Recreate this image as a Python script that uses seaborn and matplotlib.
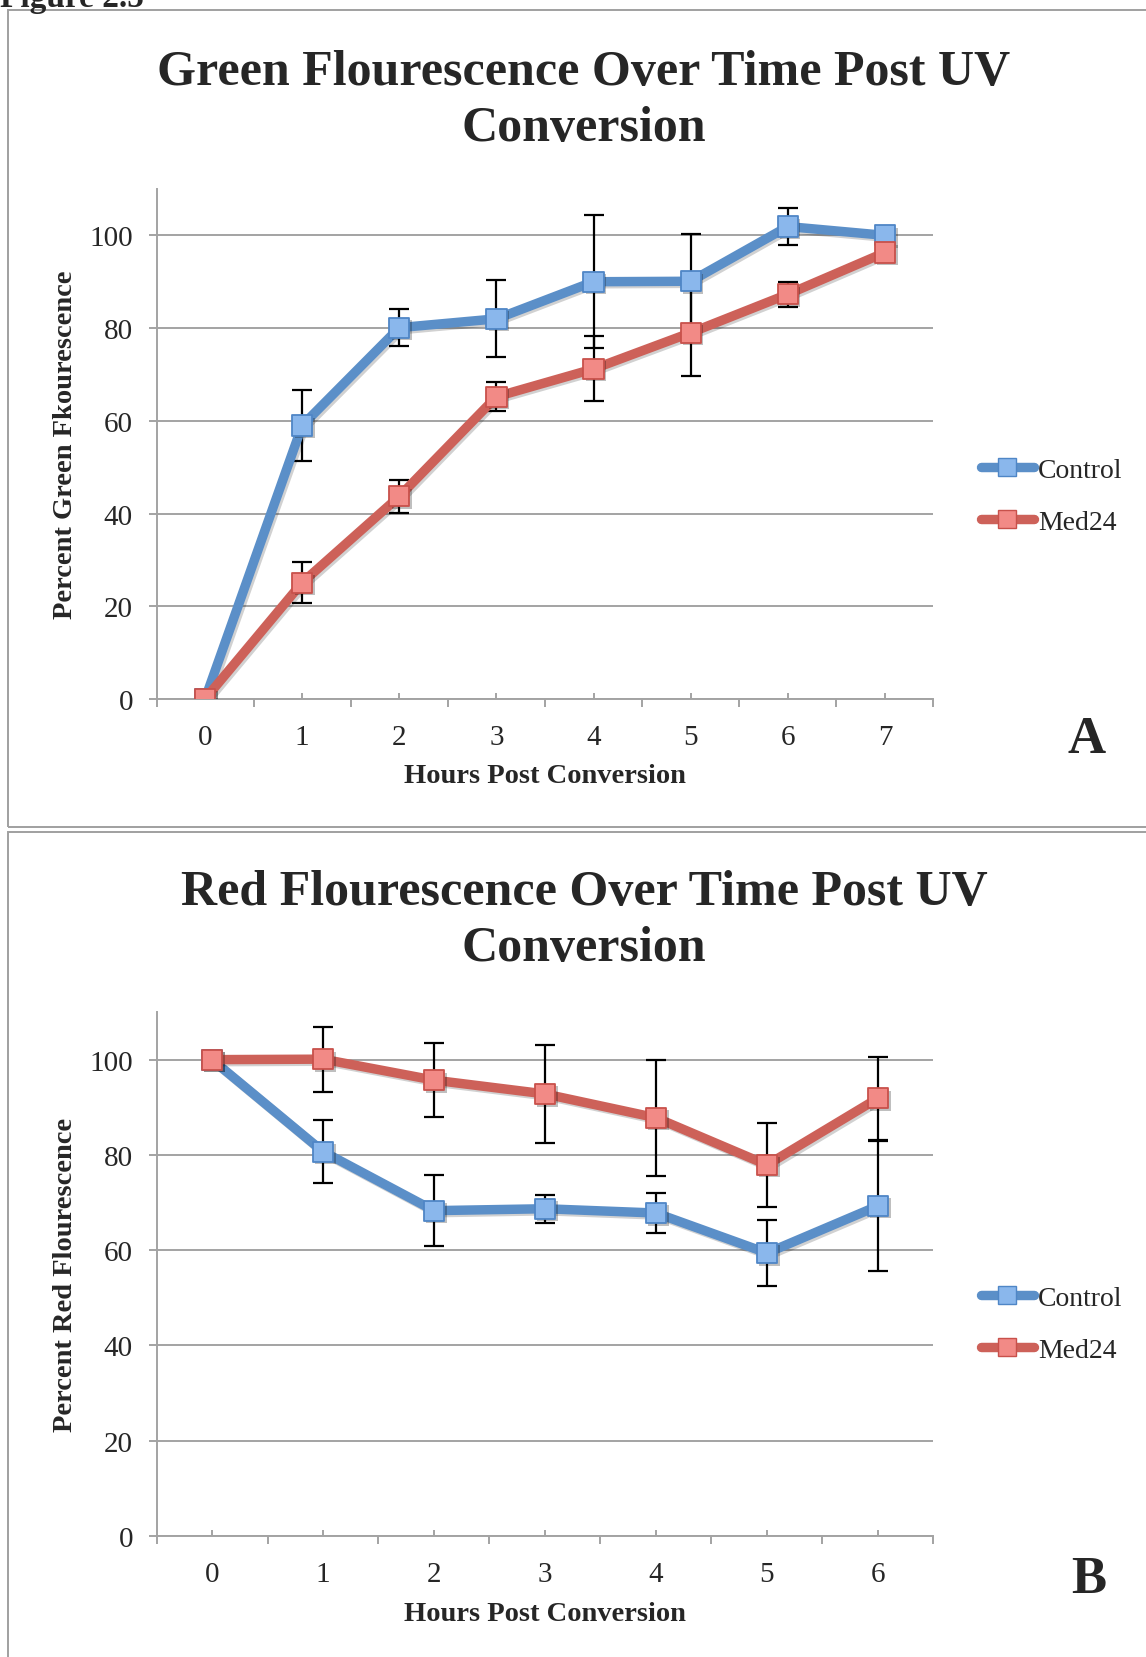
import numpy as np
import pandas as pd
import matplotlib
matplotlib.use("Agg")
import matplotlib.pyplot as plt
import seaborn as sns
from matplotlib.lines import Line2D
from matplotlib.patches import Rectangle
from matplotlib.ticker import FixedLocator
import matplotlib.patheffects as pe

# ---------------- data ----------------
hours_a = [0, 1, 2, 3, 4, 5, 6, 7]
green_control = [0, 59.0, 80.1, 82.0, 90.0, 90.1, 101.9, 100.0]
green_control_err = [0, 7.6, 4.0, 8.3, 14.3, 10.3, 4.0, 0]
green_med24 = [0, 25.1, 43.7, 65.2, 71.2, 79.0, 87.3, 96.3]
green_med24_err = [0, 4.4, 3.6, 3.1, 7.0, 9.4, 2.7, 0]

hours_b = [0, 1, 2, 3, 4, 5, 6]
red_control = [100, 80.7, 68.3, 68.7, 67.8, 59.4, 69.3]
red_control_err = [0, 6.6, 7.5, 2.9, 4.2, 6.9, 13.7]
red_med24 = [100, 100.1, 95.7, 92.8, 87.8, 77.9, 91.9]
red_med24_err = [0, 6.8, 7.7, 10.2, 12.2, 8.8, 8.7]

series_names = ["Control", "Med24"]
y_ticks = [0, 20, 40, 60, 80, 100]

title_a = "Green Flourescence Over Time Post UV\nConversion"
title_b = "Red Flourescence Over Time Post UV\nConversion"
ylabel_a = "Percent Green Fkourescence"
ylabel_b = "Percent Red Flourescence"
xlabel = "Hours Post Conversion"
figure_label = "Figure 2.5"

# ---------------- style ----------------
sns.set_style("white")
plt.rcParams["font.family"] = ["Liberation Serif", "DejaVu Serif"]

W, H = 1146, 1658
fig = plt.figure(figsize=(W / 100, H / 100), dpi=100)

LINE_C = {"Control": "#5B8FC8", "Med24": "#CD6159"}
FACE_C = {"Control": "#8AB7EC", "Med24": "#F28A86"}
EDGE_C = {"Control": "#4F86C6", "Med24": "#C8514B"}
GRID_C = "#A3A3A3"
LW = 6.8
MS = 14.5
TICK_FS = 21
LABEL_FS = 20.5


def px_axes(left, top, right, bottom):
    return fig.add_axes([left / W, 1 - bottom / H, (right - left) / W, (bottom - top) / H])


def draw_panel(ax, hours, ctrl, ctrl_err, med, med_err, ylabel):
    df = pd.DataFrame({
        "hour": hours * 2,
        "value": ctrl + med,
        "err": ctrl_err + med_err,
        "group": ["Control"] * len(hours) + ["Med24"] * len(hours),
    })
    # error bars (beneath markers)
    for g in series_names:
        d = df[(df.group == g) & (df.err > 0)]
        ax.errorbar(d.hour, d.value, yerr=d.err, fmt="none", ecolor="black",
                    elinewidth=1.6, capsize=7.5, capthick=1.6, zorder=2)
    z = 3
    for g in series_names:
        d = df[df.group == g]
        sns.lineplot(data=d, x="hour", y="value", color=LINE_C[g], linewidth=LW,
                     errorbar=None, ax=ax, zorder=z, legend=False,
                     path_effects=[pe.SimpleLineShadow(offset=(1.5, -1.5), alpha=0.18), pe.Normal()])
        sc = sns.scatterplot(data=d, x="hour", y="value", marker="s", s=MS ** 2,
                             color=FACE_C[g], edgecolor=EDGE_C[g], linewidth=1.3,
                             ax=ax, zorder=z + 1, legend=False)
        sc.collections[-1].set_path_effects(
            [pe.SimplePatchShadow(offset=(1.8, -1.8), shadow_rgbFace="black", alpha=0.25), pe.Normal()])
        z += 2

    n = len(hours)
    ax.set_xlim(-0.5, n - 0.5)
    ax.set_ylim(0, 110)
    ax.yaxis.set_major_locator(FixedLocator(y_ticks))
    ax.xaxis.set_major_locator(FixedLocator(hours))
    ax.xaxis.set_minor_locator(FixedLocator(np.arange(n + 1) - 0.5))
    ax.yaxis.grid(True, color=GRID_C, linewidth=1.4)
    ax.xaxis.grid(False)
    ax.set_axisbelow(True)
    for s in ["top", "right"]:
        ax.spines[s].set_visible(False)
    for s in ["left", "bottom"]:
        ax.spines[s].set_color(GRID_C)
        ax.spines[s].set_linewidth(1.4)
    ax.tick_params(axis="y", which="major", direction="out", length=6, width=1.4,
                   color=GRID_C, labelsize=TICK_FS, pad=11, left=True)
    ax.tick_params(axis="x", which="major", direction="in", length=4, width=1.4,
                   color=GRID_C, labelsize=TICK_FS, pad=18, bottom=True)
    ax.tick_params(axis="x", which="minor", direction="out", length=6, width=1.4,
                   color=GRID_C, bottom=True)
    ax.set_xlabel(xlabel, fontsize=LABEL_FS, fontweight="bold")
    ax.set_ylabel(ylabel, fontsize=LABEL_FS, fontweight="bold")
    return ax


# ---------------- panel frames ----------------
fig.patches.append(Rectangle((8 / W, 1 - 828 / H), 1.2, (828 - 11) / H, transform=fig.transFigure,
                             fill=False, edgecolor="#A0A0A0", linewidth=1.4))
fig.patches.append(Rectangle((8 / W, 1 - 1680 / H), 1.2, (1680 - 833) / H, transform=fig.transFigure,
                             fill=False, edgecolor="#A0A0A0", linewidth=1.4))

fig.text(0 / W, 1 - 7 / H, figure_label, fontsize=24, fontweight="bold", ha="left", va="baseline")

# ---------------- panel A ----------------
axA = px_axes(156.5, 190, 933.5, 700)
draw_panel(axA, hours_a, green_control, green_control_err, green_med24, green_med24_err, ylabel_a)
axA.xaxis.set_label_coords(0.5, -(777 - 700) / 510)
axA.xaxis.label.set_va("center")
axA.yaxis.set_label_coords((66 - 156.5) / 777, 0.5)
axA.yaxis.label.set_va("center")
fig.text(584 / W, 1 - 101 / H, title_a, fontsize=36, fontweight="bold", ha="center", va="center",
         linespacing=1.27)
fig.text(1087 / W, 1 - 740 / H, "A", fontsize=38, fontweight="bold", ha="center", va="center")

# ---------------- panel B ----------------
axB = px_axes(156.5, 1013, 933.5, 1537)
draw_panel(axB, hours_b, red_control, red_control_err, red_med24, red_med24_err, ylabel_b)
axB.xaxis.set_label_coords(0.5, -(1615 - 1537) / 524)
axB.xaxis.label.set_va("center")
axB.yaxis.set_label_coords((66 - 156.5) / 777, 0.5)
axB.yaxis.label.set_va("center")
fig.text(584 / W, 1 - 921 / H, title_b, fontsize=36, fontweight="bold", ha="center", va="center",
         linespacing=1.27)
fig.text(1089 / W, 1 - 1580 / H, "B", fontsize=38, fontweight="bold", ha="center", va="center")

# ---------------- legends ----------------
handles = [Line2D([], [], color=LINE_C[g], lw=LW, marker="s", ms=MS - 1, mfc=FACE_C[g], mec=EDGE_C[g],
                  solid_capstyle="round") for g in series_names]
for yc in (497, 1325):
    fig.legend(handles, series_names, loc="center left", bbox_to_anchor=(981 / W, 1 - yc / H),
               frameon=False, fontsize=20, handlelength=1.9, handletextpad=0.15,
               labelspacing=0.95, borderpad=0, borderaxespad=0)

fig.savefig("out.png", dpi=100)
